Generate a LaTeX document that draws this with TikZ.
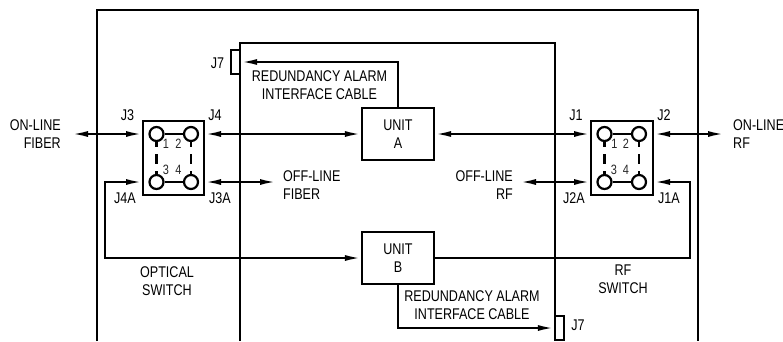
\documentclass[tikz,border=0pt]{standalone}
\usepackage{fontspec}
\setmainfont[FakeStretch=0.81]{Liberation Sans}
\usetikzlibrary{arrows.meta,positioning}
\tikzset{
  frame/.style={line width=2.2pt,draw=black},
  box/.style={draw=black,line width=2.2pt,fill=white,minimum width=72pt,minimum height=52pt,inner sep=0pt,align=center,font=\fontsize{15.5}{18}\selectfont},
  swbox/.style={draw=black,line width=2.2pt,minimum height=74pt,inner sep=0pt},
  port/.style={draw=black,line width=2.2pt,fill=white,circle,minimum size=14pt,inner sep=0pt},
  lab/.style={inner sep=0pt,font=\fontsize{15.5}{18}\selectfont,align=center},
  num/.style={inner sep=0pt,font=\fontsize{13.5}{14}\selectfont,text=black!85},
  wire/.style={line width=2.1pt},
  link/.style={line width=2.1pt},
  dlink/.style={line width=2.1pt,dash pattern=on 5pt off 7pt on 10pt off 7pt on 5pt off 10pt},
  conn/.style={draw=black,line width=2.2pt,minimum width=9pt,minimum height=24pt,inner sep=0pt},
  both/.style={{Latex[length=16pt,width=6pt]}-{Latex[length=16pt,width=6pt]}},
  one/.style={-{Latex[length=16pt,width=6pt]}}
}
\begin{document}
\begin{tikzpicture}[x=1pt,y=-1pt]
\useasboundingbox (0,0) rectangle (783,341);
\begin{scope}
\clip (0,0) rectangle (783,341);
% frames
\draw[frame] (97,341) -- (97,10) -- (698,10) -- (698,341);
\draw[frame] (240,341) -- (240,43) -- (555,43) -- (555,341);
% connectors J7
\node[conn] (j7a) at (235.5,62) {};
\node[conn] (j7b) at (559.5,328) {};
\end{scope}
\node[box] (ua) at (398,134) {UNIT\\A};
\node[box] (ub) at (398,258) {UNIT\\B};
\node[swbox,minimum width=61pt] (sl) at (173.5,158) {};
\node[swbox,minimum width=62pt] (sr) at (622,158) {};
% ports
\node[port] (l1) at (156.5,134) {};
\node[port] (l2) at (191,134) {};
\node[port] (l3) at (156.5,182) {};
\node[port] (l4) at (191,182) {};
\node[port] (r1) at (604.5,134) {};
\node[port] (r2) at (639,134) {};
\node[port] (r3) at (604.5,182) {};
\node[port] (r4) at (639,182) {};
\draw[link] (l1) -- (l2);
\draw[link] (l3) -- (l4);
\draw[link] (r1) -- (r2);
\draw[link] (r3) -- (r4);
\draw[dlink] (l1) -- (l3);
\draw[dlink] (l2) -- (l4);
\draw[dlink] (r1) -- (r3);
\draw[dlink] (r2) -- (r4);
\node[num] at (166,144) {1};
\node[num] at (178.5,143.5) {2};
\node[num] at (166,169.5) {3};
\node[num] at (178.5,169.5) {4};
\node[num] at (614.5,144) {1};
\node[num] at (626,143.5) {2};
\node[num] at (614,169.5) {3};
\node[num] at (626,169.5) {4};
% free ends
\coordinate (onfib) at (72,134);
\coordinate (offfib) at (276,182);
\coordinate (offrf) at (520,182);
\coordinate (onrf) at (724,134);
\coordinate (sl1) at (142,134);
\coordinate (sl2) at (205,134);
\coordinate (sl3) at (142,182);
\coordinate (sl4) at (205,182);
\coordinate (sr1) at (590,134);
\coordinate (sr2) at (654,134);
\coordinate (sr3) at (590,182);
\coordinate (sr4) at (654,182);
\draw[wire,both] (onfib) -- (sl1);
\draw[wire,both] (sl2) -- (ua.west);
\draw[wire,both] (sl4) -- (offfib);
\draw[wire,both] (ua.east) -- (sr1);
\draw[wire,both] (offrf) -- (sr3);
\draw[wire,both] (sr2) -- (onrf);
\draw[wire,both,line join=miter] (sl3) -- (105,182) -- (105,258) -- (ub.west);
\draw[wire,one] (ub.east) -- (690,258) -- (690,182) -- (sr4);
\draw[wire,one] (ua.north) -- (398,62) -- (j7a.east);
\draw[wire,one] (ub.south) -- (398,328) -- (j7b.west);
% labels
\node[lab,anchor=east,align=right] at (61,134) {ON-LINE\\FIBER};
\node[lab,anchor=west,align=left] at (733,134) {ON-LINE\\RF};
\node[lab,anchor=west,align=left] at (283,185) {OFF-LINE\\FIBER};
\node[lab,anchor=east,align=right] at (513,185) {OFF-LINE\\RF};
\node[lab] at (127.5,115) {J3};
\node[lab] at (215,115) {J4};
\node[lab] at (125,198) {J4A};
\node[lab] at (220,198) {J3A};
\node[lab] at (576,115) {J1};
\node[lab] at (664,115) {J2};
\node[lab] at (574,198) {J2A};
\node[lab] at (669,198) {J1A};
\node[lab] at (217.5,63) {J7};
\node[lab] at (578,325) {J7};
\node[lab] at (319.5,85) {REDUNDANCY ALARM\\INTERFACE CABLE};
\node[lab] at (472,305) {REDUNDANCY ALARM\\INTERFACE CABLE};
\node[lab] at (167,281) {OPTICAL\\SWITCH};
\node[lab] at (623,279) {RF\\SWITCH};
\end{tikzpicture}
\end{document}
